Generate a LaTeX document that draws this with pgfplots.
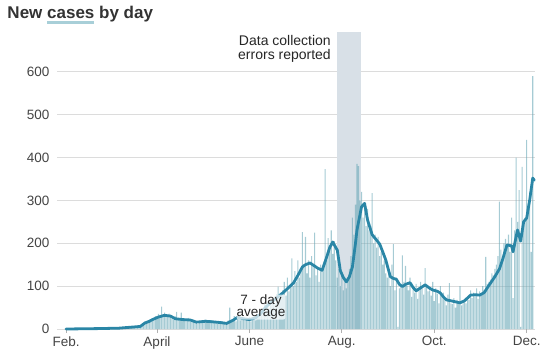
\documentclass[border=0pt]{standalone}
\usepackage{pgfplots}
\pgfplotsset{compat=1.18}
\usepackage{fontspec}
\setmainfont{Liberation Sans}
\definecolor{barc}{HTML}{6AA8B8}
\definecolor{linec}{HTML}{2A86A6}
\definecolor{bandc}{HTML}{D8E0E7}
\definecolor{gridc}{HTML}{DCDCDC}
\definecolor{tickc}{HTML}{444444}
\definecolor{titc}{HTML}{333333}
\definecolor{ulc}{HTML}{A8CFD8}
\newcommand\myul[1]{\setbox0\hbox{#1}\rlap{\textcolor{ulc}{\rule[-6bp]{\wd0}{2.6bp}}}\box0\relax}
\begin{document}
\begin{tikzpicture}[x=1bp,y=1bp]
\path[use as bounding box] (0,0) rectangle (547,361);
\begin{axis}[
  at={(57bp,32bp)}, anchor=south west, scale only axis,
  width=478bp, height=296.7bp,
  xmin=-6, xmax=309.5, ymin=0, ymax=692,
  axis line style={draw=none},
  ytick={0,100,...,600},
  xtick={0,60,121,182,243,304},
  xticklabels={Feb.,April,June,Aug.,Oct.,Dec.},
  ymajorgrids, grid style={gridc, line width=0.9bp},
  y tick style={draw=none},
  x tick style={draw=gridc!80!black, line width=0.8bp},
  xtick pos=left,
  tick align=outside, major tick length=4bp,
  ticklabel style={font=\fontsize{13.5bp}{15bp}\selectfont, text=tickc},
  /pgf/number format/assume math mode=true,
  clip=false,
]
\addplot[fill=bandc, draw=none] coordinates {(178.6,692)(194.7,692)} \closedcycle;
\addplot[ybar, bar width=0.7, fill=barc, fill opacity=0.6, draw=none] coordinates {
(30,0)(31,1)(32,0)(33,1)(34,1)(35,2)(36,1)(37,2)(38,3)(39,2)(40,3)(41,4)(42,3)(43,5)(44,4)(45,6)(46,5)(47,7)(48,6)(49,8)
(50,10)(51,14)(52,18)(53,12)(54,20)(55,22)(56,17)(57,25)(58,24)(59,30)
(60,28)(61,35)(62,26)(63,52)(64,30)(65,38)(66,33)(67,29)(68,36)(69,28)
(70,24)(71,22)(72,30)(73,40)(74,25)(75,20)(76,38)(77,19)(78,24)(79,22)
(80,20)(81,26)(82,18)(83,22)(84,17)(85,14)(86,19)(87,12)(88,16)(89,18)
(90,20)(91,15)(92,22)(93,16)(94,18)(95,14)(96,21)(97,17)(98,15)(99,19)
(100,13)(101,16)(102,12)(103,18)(104,14)(105,11)(106,15)(107,20)(108,50)(109,17)
(110,22)(111,30)(112,18)(113,25)(114,40)(115,20)(116,28)(117,24)(118,19)(119,26)
(120,22)(121,28)(122,18)(123,24)(124,30)(125,20)(126,34)(127,26)(128,38)(129,32)
(130,44)(131,58)(132,40)(133,62)(134,48)(135,55)(136,70)(137,65)(138,60)(139,80)
(140,99)(141,72)(142,85)(143,90)(144,110)(145,78)(146,120)(147,88)(148,105)(149,165)
(150,100)(151,135)(152,110)(153,160)(154,120)(155,140)(156,226)(157,150)(158,215)(159,130)
(160,160)(161,120)(162,170)(163,150)(164,225)(165,125)(166,140)(167,110)(168,150)(169,135)
(170,145)(171,373)(172,160)(173,212)(174,185)(175,230)(176,175)(177,205)(178,160)(179,120)
(180,140)(181,100)(182,130)(183,90)(184,120)(185,95)(186,120)(187,140)(188,170)(189,260)
(190,220)(191,290)(192,385)(193,380)(194,300)(195,320)(196,260)(197,290)(198,240)(199,280)
(200,230)(201,240)(202,317)(203,200)(204,220)(205,190)(206,215)(207,170)(208,180)(209,150)
(210,160)(211,130)(212,120)(213,140)(214,100)(215,150)(216,198)(217,90)(218,120)(219,5)
(220,95)(221,100)(222,172)(223,110)(224,147)(225,100)(226,90)(227,120)(228,75)(229,95)
(230,85)(231,105)(232,70)(233,90)(234,110)(235,95)(236,80)(237,142)(238,100)(239,88)
(240,90)(241,78)(242,110)(243,65)(244,95)(245,82)(246,60)(247,100)(248,75)(249,85)
(250,70)(251,55)(252,80)(253,107)(254,60)(255,58)(256,72)(257,50)(258,68)(259,62)
(260,100)(261,55)(262,65)(263,70)(264,60)(265,75)(266,68)(267,90)(268,72)(269,85)
(270,80)(271,95)(272,70)(273,88)(274,78)(275,100)(276,90)(277,168)(278,105)(279,110)
(280,115)(281,130)(282,125)(283,140)(284,150)(285,170)(286,297)(287,185)(288,160)(289,200)
(290,210)(291,190)(292,220)(293,180)(294,260)(295,72)(296,230)(297,400)(298,250)(299,324)
(300,5)(301,378)(302,250)(303,260)(304,441)(305,290)(306,320)(307,180)(308,590)
};
\addplot[linec, line width=2.8bp, line cap=round, line join=round] coordinates {
(0,0)(22,1)(35,2)(42,4)(49,6)(52,14)(55,18)(57,22)(61,28)(65,32)(69,30)(72,24)(77,22)(82,21)(86,16)(92,18)(96,17)(102,15)(106,13)(110,20)(113,27)(117,24)(121,22)(125,26)(128,34)(132,52)(138,70)(143,84)(150,107)(153,125)(156,145)(158,150)(161,154)(164,147)(166,142)(169,137)(172,168)(174,190)(176,203)(178,190)(179,184)(181,136)(183,120)(185,110)(187,122)(189,145)(191,200)(192,231)(195,285)(197,293)(199,254)(202,220)(205,207)(207,198)(209,180)(211,161)(214,122)(216,118)(218,116)(220,104)(222,99)(224,104)(227,108)(229,97)(231,89)(234,96)(237,103)(240,95)(242,91)(245,88)(247,84)(249,75)(251,68)(255,65)(260,61)(263,66)(267,79)(270,80)(273,79)(276,85)(278,96)(283,122)(286,140)(288,161)(291,196)(294,194)(295,180)(297,215)(298,231)(300,205)(302,250)(304,259)(306,301)(308,352)(309,347)
};
\end{axis}
\node[anchor=base west, inner sep=0, font=\fontsize{17bp}{19bp}\selectfont\bfseries, text=titc] at (7.3,343) {New \myul{cases} by day};
\node[anchor=base east, inner sep=0, font=\fontsize{14bp}{16bp}\selectfont, text=black!85] at (331,315.5) {Data collection};
\node[anchor=base east, inner sep=0, font=\fontsize{14bp}{16bp}\selectfont, text=black!85] at (331,301.5) {errors reported};
\node[anchor=base, inner sep=0bp, fill=white, fill opacity=0.7, text opacity=1, rounded corners=2bp, align=center, font=\fontsize{13.5bp}{12.4bp}\selectfont, text=black!85] at (261,44.3) {7 - day\\average};
\end{tikzpicture}
\end{document}
